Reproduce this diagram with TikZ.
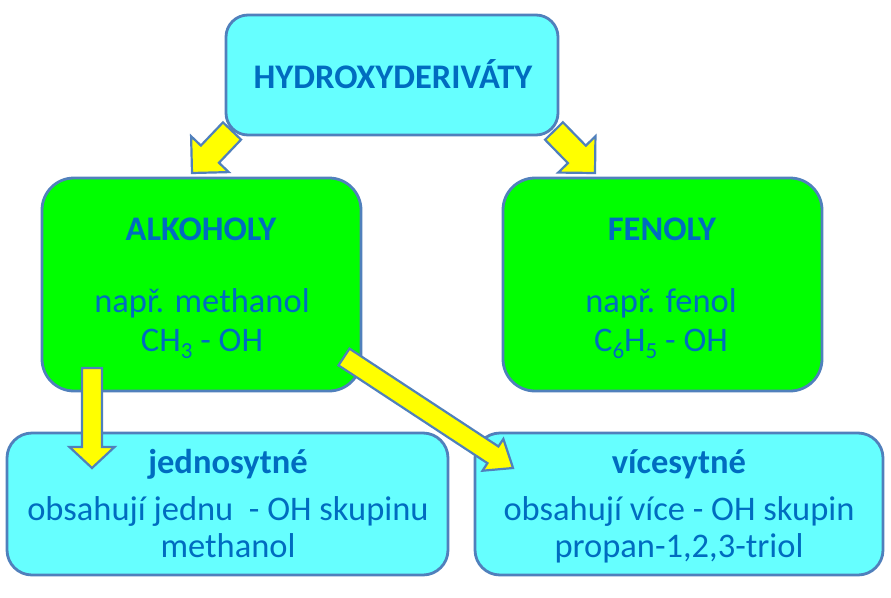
\documentclass[tikz,border=0pt]{standalone}
\usepackage{fontspec}
\setmainfont{Carlito}
\usetikzlibrary{calc}
\definecolor{txt}{RGB}{0,108,192}
\definecolor{bord}{RGB}{80,128,188}
\definecolor{cyanf}{RGB}{102,255,255}
\definecolor{greenf}{RGB}{0,255,0}
\definecolor{yell}{RGB}{255,255,0}
\newcommand\chemsub[1]{\raisebox{-7pt}{\fontsize{23}{23}\selectfont #1}}
\tikzset{
  box/.style={draw=bord, line width=2.8pt, rounded corners=#1, inner sep=0pt, outer sep=0pt},
  cyanbox/.style={box=#1, fill=cyanf},
  greenbox/.style={box=32pt, fill=greenf},
  lbl/.style={anchor=base, text=txt, inner sep=0pt, font=\fontsize{34.5}{40}\selectfont},
  blbl/.style={anchor=base, text=txt, inner sep=0pt, font=\fontsize{34.5}{40}\selectfont\bfseries},
  barrow/.style={draw=bord, line width=2.2pt, fill=yell, line join=miter},
}
% #1 start, #2 end (tip), #3 half shaft, #4 half head, #5 head length
\newcommand\blockarrow[5]{%
  \coordinate (ba-n) at ($(#2)!#5!(#1)$);
  \draw[barrow] ($(#1)!#3!90:(#2)$) -- ($(ba-n)!#3!-90:(#1)$) -- ($(ba-n)!#4!-90:(#1)$)
    -- (#2) -- ($(ba-n)!#4!90:(#1)$) -- ($(ba-n)!#3!90:(#1)$) -- ($(#1)!#3!-90:(#2)$) -- cycle;}
\begin{document}
\begin{tikzpicture}[x=1pt, y=-1pt]
\useasboundingbox (0,0) rectangle (891,597);
\fill[white] (0,0) rectangle (891,597);

% boxes
\node[greenbox, minimum width=319pt, minimum height=213pt] (alk) at (201.5,284.5) {};
\node[greenbox, minimum width=319pt, minimum height=213pt] (fen) at (662.5,284.5) {};
\node[cyanbox=25pt, minimum width=441pt, minimum height=142pt] (jed) at (227.5,504) {};
\node[cyanbox=25pt, minimum width=408pt, minimum height=142pt] (vic) at (679,504) {};

% arrows from top box
\coordinate (a1s) at (232,131);
\coordinate (a1e) at (192,173);
\coordinate (a2s) at (554,131);
\coordinate (a2e) at (595,173);
\blockarrow{a1s}{a1e}{12.5pt}{26pt}{26pt}
\blockarrow{a2s}{a2e}{12.5pt}{26pt}{26pt}

\node[cyanbox=22pt, minimum width=332pt, minimum height=120pt] (top) at (392,75) {};

% arrows from ALKOHOLY
\coordinate (a3s) at (92,368);
\coordinate (a3e) at (92,468);
\coordinate (a4s) at (344,357);
\coordinate (a4e) at (513,468);
\blockarrow{a3s}{a3e}{10pt}{22.5pt}{21pt}
\blockarrow{a4s}{a4e}{10pt}{19pt}{24pt}

% texts
\node[blbl] (t0) at (393,88) {HYDROXYDERIVÁTY};

\node[blbl] (t1) at (201,240) {ALKOHOLY};
\node[lbl] (t2) at (202,312) {např. methanol};
\node[lbl] (t3) at (202,351) {CH\chemsub{3} - OH};

\node[blbl] (t4) at (662,240) {FENOLY};
\node[lbl] (t5) at (661,312) {např. fenol};
\node[lbl] (t6) at (661,351) {C\chemsub{6}H\chemsub{5} - OH};

\node[blbl] (t7) at (228,473) {jednosytné};
\node[lbl] (t8) at (228,520) {obsahují jednu\ \ - OH skupinu};
\node[lbl] (t9) at (228,557) {methanol};

\node[blbl] (t10) at (679,473) {vícesytné};
\node[lbl] (t11) at (679,520) {obsahují více - OH skupin};
\node[lbl] (t12) at (679,557) {propan-1,2,3-triol};
\end{tikzpicture}
\end{document}
